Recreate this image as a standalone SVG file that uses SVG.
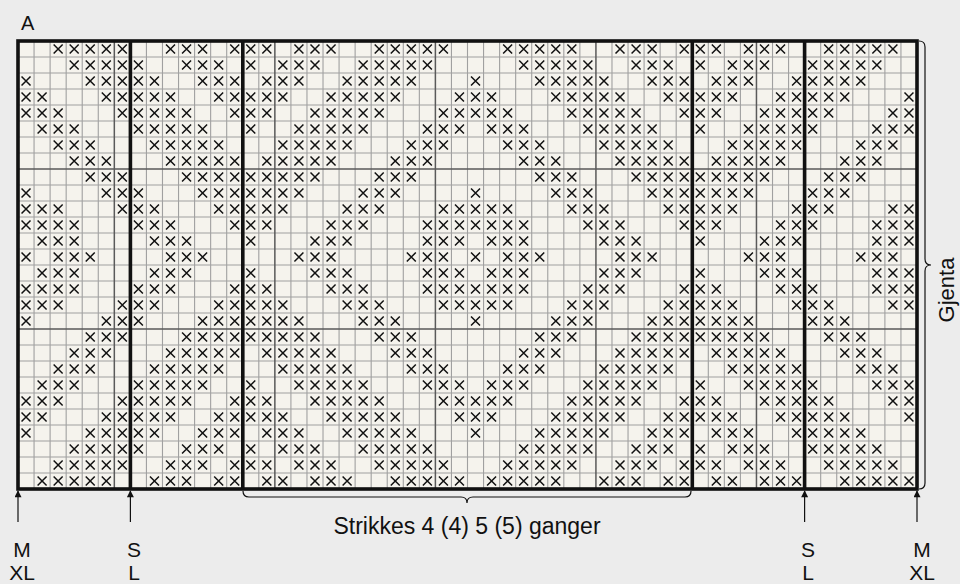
<svg xmlns="http://www.w3.org/2000/svg" width="960" height="584" viewBox="0 0 960 584">
<style>
.t{font-family:"Liberation Sans",Arial,Helvetica,sans-serif;font-size:21px;fill:#111}
.thin{fill:none;stroke:#a0a0a0;stroke-width:1.1;vector-effect:non-scaling-stroke}
.dark{fill:none;stroke:#5a5a5a;stroke-width:1.5;vector-effect:non-scaling-stroke}
.thick{fill:none;stroke:#111;stroke-width:3.6}
.brace{fill:none;stroke:#111;stroke-width:1.2}
.arr{fill:none;stroke:#111;stroke-width:1.2}
</style>
<defs>
<path id="x" d="M.22,.22L.78,.78M.78,.22L.22,.78" fill="none" stroke="#111" stroke-width="1.5" vector-effect="non-scaling-stroke"/>
<marker id="ah" viewBox="0 0 10 10" refX="9" refY="5" markerWidth="8" markerHeight="7" markerUnits="userSpaceOnUse" orient="auto"><path d="M0,0L10,5L0,10z" fill="#111"/></marker>
<g id="r0"><use href="#x" x="2"/><use href="#x" x="3"/><use href="#x" x="4"/><use href="#x" x="5"/><use href="#x" x="6"/><use href="#x" x="9"/><use href="#x" x="10"/><use href="#x" x="11"/><use href="#x" x="13"/><use href="#x" x="14"/><use href="#x" x="15"/><use href="#x" x="17"/><use href="#x" x="18"/><use href="#x" x="19"/><use href="#x" x="22"/><use href="#x" x="23"/><use href="#x" x="24"/><use href="#x" x="25"/><use href="#x" x="26"/></g>
<g id="r1"><use href="#x" x="3"/><use href="#x" x="4"/><use href="#x" x="5"/><use href="#x" x="6"/><use href="#x" x="7"/><use href="#x" x="10"/><use href="#x" x="11"/><use href="#x" x="12"/><use href="#x" x="14"/><use href="#x" x="16"/><use href="#x" x="17"/><use href="#x" x="18"/><use href="#x" x="21"/><use href="#x" x="22"/><use href="#x" x="23"/><use href="#x" x="24"/><use href="#x" x="25"/></g>
<g id="r2"><use href="#x" x="0"/><use href="#x" x="4"/><use href="#x" x="5"/><use href="#x" x="6"/><use href="#x" x="7"/><use href="#x" x="8"/><use href="#x" x="11"/><use href="#x" x="12"/><use href="#x" x="13"/><use href="#x" x="15"/><use href="#x" x="16"/><use href="#x" x="17"/><use href="#x" x="20"/><use href="#x" x="21"/><use href="#x" x="22"/><use href="#x" x="23"/><use href="#x" x="24"/></g>
<g id="r3"><use href="#x" x="0"/><use href="#x" x="1"/><use href="#x" x="5"/><use href="#x" x="6"/><use href="#x" x="7"/><use href="#x" x="8"/><use href="#x" x="9"/><use href="#x" x="12"/><use href="#x" x="13"/><use href="#x" x="14"/><use href="#x" x="15"/><use href="#x" x="16"/><use href="#x" x="19"/><use href="#x" x="20"/><use href="#x" x="21"/><use href="#x" x="22"/><use href="#x" x="23"/><use href="#x" x="27"/></g>
<g id="r4"><use href="#x" x="0"/><use href="#x" x="1"/><use href="#x" x="2"/><use href="#x" x="6"/><use href="#x" x="7"/><use href="#x" x="8"/><use href="#x" x="9"/><use href="#x" x="10"/><use href="#x" x="13"/><use href="#x" x="14"/><use href="#x" x="15"/><use href="#x" x="18"/><use href="#x" x="19"/><use href="#x" x="20"/><use href="#x" x="21"/><use href="#x" x="22"/><use href="#x" x="26"/><use href="#x" x="27"/></g>
<g id="r5"><use href="#x" x="1"/><use href="#x" x="2"/><use href="#x" x="3"/><use href="#x" x="7"/><use href="#x" x="8"/><use href="#x" x="9"/><use href="#x" x="10"/><use href="#x" x="11"/><use href="#x" x="14"/><use href="#x" x="17"/><use href="#x" x="18"/><use href="#x" x="19"/><use href="#x" x="20"/><use href="#x" x="21"/><use href="#x" x="25"/><use href="#x" x="26"/><use href="#x" x="27"/></g>
<g id="r6"><use href="#x" x="2"/><use href="#x" x="3"/><use href="#x" x="4"/><use href="#x" x="8"/><use href="#x" x="9"/><use href="#x" x="10"/><use href="#x" x="11"/><use href="#x" x="12"/><use href="#x" x="16"/><use href="#x" x="17"/><use href="#x" x="18"/><use href="#x" x="19"/><use href="#x" x="20"/><use href="#x" x="24"/><use href="#x" x="25"/><use href="#x" x="26"/></g>
<g id="r7"><use href="#x" x="3"/><use href="#x" x="4"/><use href="#x" x="5"/><use href="#x" x="9"/><use href="#x" x="10"/><use href="#x" x="11"/><use href="#x" x="12"/><use href="#x" x="13"/><use href="#x" x="15"/><use href="#x" x="16"/><use href="#x" x="17"/><use href="#x" x="18"/><use href="#x" x="19"/><use href="#x" x="23"/><use href="#x" x="24"/><use href="#x" x="25"/></g>
<g id="r8"><use href="#x" x="4"/><use href="#x" x="5"/><use href="#x" x="6"/><use href="#x" x="10"/><use href="#x" x="11"/><use href="#x" x="12"/><use href="#x" x="13"/><use href="#x" x="14"/><use href="#x" x="15"/><use href="#x" x="16"/><use href="#x" x="17"/><use href="#x" x="18"/><use href="#x" x="22"/><use href="#x" x="23"/><use href="#x" x="24"/></g>
<g id="r9"><use href="#x" x="0"/><use href="#x" x="5"/><use href="#x" x="6"/><use href="#x" x="7"/><use href="#x" x="11"/><use href="#x" x="12"/><use href="#x" x="13"/><use href="#x" x="14"/><use href="#x" x="15"/><use href="#x" x="16"/><use href="#x" x="17"/><use href="#x" x="21"/><use href="#x" x="22"/><use href="#x" x="23"/></g>
<g id="r10"><use href="#x" x="0"/><use href="#x" x="1"/><use href="#x" x="2"/><use href="#x" x="6"/><use href="#x" x="7"/><use href="#x" x="8"/><use href="#x" x="12"/><use href="#x" x="13"/><use href="#x" x="14"/><use href="#x" x="15"/><use href="#x" x="16"/><use href="#x" x="20"/><use href="#x" x="21"/><use href="#x" x="22"/><use href="#x" x="26"/><use href="#x" x="27"/></g>
<g id="r11"><use href="#x" x="0"/><use href="#x" x="1"/><use href="#x" x="2"/><use href="#x" x="3"/><use href="#x" x="7"/><use href="#x" x="8"/><use href="#x" x="9"/><use href="#x" x="13"/><use href="#x" x="14"/><use href="#x" x="15"/><use href="#x" x="19"/><use href="#x" x="20"/><use href="#x" x="21"/><use href="#x" x="25"/><use href="#x" x="26"/><use href="#x" x="27"/></g>
<g id="r12"><use href="#x" x="1"/><use href="#x" x="2"/><use href="#x" x="3"/><use href="#x" x="8"/><use href="#x" x="9"/><use href="#x" x="10"/><use href="#x" x="14"/><use href="#x" x="18"/><use href="#x" x="19"/><use href="#x" x="20"/><use href="#x" x="25"/><use href="#x" x="26"/><use href="#x" x="27"/></g>
<g id="r13"><use href="#x" x="0"/><use href="#x" x="2"/><use href="#x" x="3"/><use href="#x" x="4"/><use href="#x" x="9"/><use href="#x" x="10"/><use href="#x" x="11"/><use href="#x" x="17"/><use href="#x" x="18"/><use href="#x" x="19"/><use href="#x" x="24"/><use href="#x" x="25"/><use href="#x" x="26"/></g>
<g id="r27"><use href="#x" x="1"/><use href="#x" x="2"/><use href="#x" x="3"/><use href="#x" x="4"/><use href="#x" x="5"/><use href="#x" x="8"/><use href="#x" x="9"/><use href="#x" x="10"/><use href="#x" x="12"/><use href="#x" x="13"/><use href="#x" x="15"/><use href="#x" x="16"/><use href="#x" x="18"/><use href="#x" x="19"/><use href="#x" x="20"/><use href="#x" x="23"/><use href="#x" x="24"/><use href="#x" x="25"/><use href="#x" x="26"/><use href="#x" x="27"/></g>
<g id="half">
<use href="#r0" y="0"/><use href="#r1" y="1"/><use href="#r2" y="2"/><use href="#r3" y="3"/><use href="#r4" y="4"/><use href="#r5" y="5"/><use href="#r6" y="6"/><use href="#r7" y="7"/><use href="#r8" y="8"/><use href="#r9" y="9"/><use href="#r10" y="10"/><use href="#r11" y="11"/><use href="#r12" y="12"/><use href="#r13" y="13"/><use href="#r12" y="14"/><use href="#r11" y="15"/><use href="#r10" y="16"/><use href="#r9" y="17"/><use href="#r8" y="18"/><use href="#r7" y="19"/><use href="#r6" y="20"/><use href="#r5" y="21"/><use href="#r4" y="22"/><use href="#r3" y="23"/><use href="#r2" y="24"/><use href="#r1" y="25"/><use href="#r0" y="26"/><use href="#r27" y="27"/>
</g>
</defs>
<rect width="960" height="584" fill="#ececec"/>
<g id="chart" transform="translate(18,41) scale(16.05357,16)">
<rect width="56" height="28" fill="#f5f3ed"/>
<path class="thin" d="M1,0V28M2,0V28M3,0V28M4,0V28M5,0V28M8,0V28M9,0V28M10,0V28M11,0V28M12,0V28M13,0V28M15,0V28M17,0V28M18,0V28M19,0V28M20,0V28M21,0V28M22,0V28M23,0V28M24,0V28M25,0V28M27,0V28M28,0V28M29,0V28M30,0V28M31,0V28M32,0V28M33,0V28M34,0V28M35,0V28M37,0V28M38,0V28M39,0V28M40,0V28M41,0V28M43,0V28M44,0V28M45,0V28M47,0V28M48,0V28M50,0V28M51,0V28M52,0V28M53,0V28M54,0V28M55,0V28M0,1H56M0,2H56M0,3H56M0,4H56M0,5H56M0,6H56M0,7H56M0,9H56M0,10H56M0,11H56M0,12H56M0,13H56M0,14H56M0,15H56M0,16H56M0,17H56M0,19H56M0,20H56M0,21H56M0,22H56M0,23H56M0,24H56M0,25H56M0,26H56M0,27H56"/>
<path class="dark" d="M6,0V28M16,0V28M26,0V28M36,0V28M46,0V28M0,8H56M0,18H56"/>
<g id="marks"><use href="#half"/><use href="#half" x="28"/></g>
</g>
<g id="frame">
<rect class="thick" x="18" y="41" width="899" height="448"/>
<path class="thick" d="M130.4,41V489M242.8,41V489M692.3,41V489M804.6,41V489"/>
</g>
<g id="connectors">
<path class="brace" d="M919,41q6,0 6,6V259q0,6 6,6q-6,0 -6,6V483q0,6 -6,6"/>
<path class="brace" d="M243,491q0,6 6,6H461q6,0 6,6q0,-6 6,-6H685q6,0 6,-6"/>
<line class="arr" x1="18" y1="522" x2="18" y2="491" marker-end="url(#ah)"/>
<line class="arr" x1="130.4" y1="522" x2="130.4" y2="491" marker-end="url(#ah)"/>
<line class="arr" x1="804.6" y1="522" x2="804.6" y2="491" marker-end="url(#ah)"/>
<line class="arr" x1="917" y1="522" x2="917" y2="491" marker-end="url(#ah)"/>
</g>
<g id="labels">
<text class="t" x="21" y="30" style="font-size:20px">A</text>
<text class="t" x="467" y="534" text-anchor="middle" style="font-size:23px">Strikkes 4 (4) 5 (5) ganger</text>
<text class="t" transform="translate(954,290) rotate(-90)" text-anchor="middle" style="font-size:22px">Gjenta</text>
<text class="t" x="22" y="557" text-anchor="middle">M</text>
<text class="t" x="22" y="580" text-anchor="middle">XL</text>
<text class="t" x="134" y="557" text-anchor="middle">S</text>
<text class="t" x="134" y="580" text-anchor="middle">L</text>
<text class="t" x="808" y="557" text-anchor="middle">S</text>
<text class="t" x="808" y="580" text-anchor="middle">L</text>
<text class="t" x="922" y="557" text-anchor="middle">M</text>
<text class="t" x="922" y="580" text-anchor="middle">XL</text>
</g>
</svg>
